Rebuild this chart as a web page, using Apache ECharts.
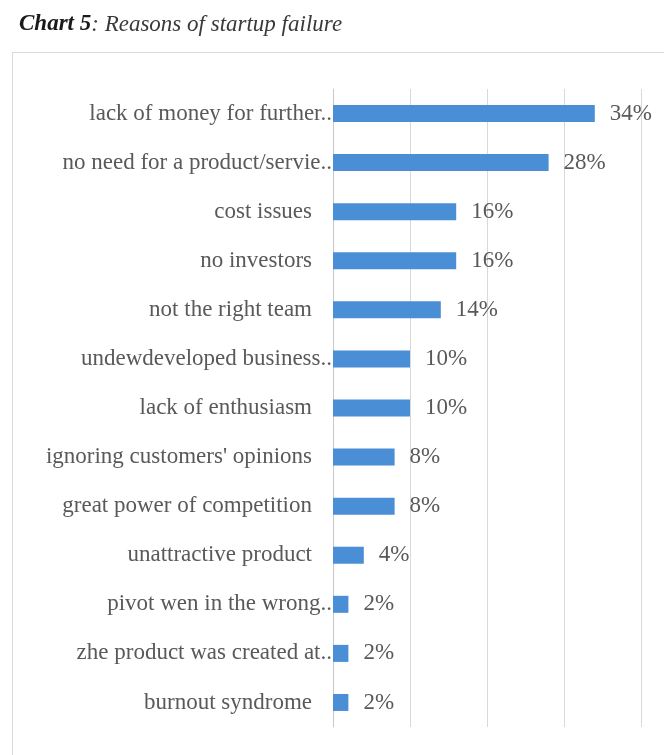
<!DOCTYPE html>
<html>
<head>
<meta charset="utf-8">
<script src="https://cdn.jsdelivr.net/npm/echarts@6/dist/echarts.min.js"></script>
<style>
  html, body { margin: 0; padding: 0; background: #ffffff; }
  #frame {
    position: absolute; left: 12px; top: 52px; width: 720px; height: 760px;
    border: 1px solid #d9d9d9; box-sizing: border-box;
  }
  #chart { position: absolute; left: 0; top: 0; width: 664px; height: 755px; }
</style>
</head>
<body>
<div id="frame"></div>
<div id="chart"></div>
<script>
// Survey answers, top to bottom
const reasons = [
  'lack of money for further..',
  'no need for a product/servie..',
  'cost issues',
  'no investors',
  'not the right team',
  'undewdeveloped business..',
  'lack of enthusiasm',
  "ignoring customers' opinions",
  'great power of competition',
  'unattractive product',
  'pivot wen in the wrong..',
  'zhe product was created at..',
  'burnout syndrome'
];
// Share of respondents, percent
const shares = [34, 28, 16, 16, 14, 10, 10, 8, 8, 4, 2, 2, 2];
// Horizontal axis ticks (percent)
const xTicks = [0, 10, 20, 30, 40];

const serif = '"Liberation Serif", "Times New Roman", serif';
const chart = echarts.init(document.getElementById('chart'));

chart.setOption({
  animation: false,
  title: {
    left: 14,
    top: 8,
    text: '{b|Chart 5}{i|: Reasons of startup failure}',
    textStyle: {
      fontWeight: 'normal',
      rich: {
        b: { fontFamily: serif, fontSize: 23, fontWeight: 'bold', fontStyle: 'italic', color: '#1a1a1a' },
        i: { fontFamily: serif, fontSize: 23, fontWeight: 'normal', fontStyle: 'italic', color: '#3a3a3a' }
      }
    }
  },
  grid: { left: 333, right: 23, top: 89, height: 638, containLabel: false },
  xAxis: {
    type: 'value',
    min: xTicks[0],
    max: xTicks[xTicks.length - 1],
    interval: xTicks[1] - xTicks[0],
    axisLabel: { show: false },
    axisLine: { show: false },
    axisTick: { show: false },
    splitLine: { show: true, lineStyle: { color: '#d9d9d9', width: 1 } }
  },
  yAxis: {
    type: 'category',
    inverse: true,
    data: reasons,
    axisLine: { show: true, lineStyle: { color: '#c8c8c8', width: 1 } },
    axisTick: { show: false },
    axisLabel: {
      margin: 1,
      formatter: function (v) {
        return v.endsWith('..') ? '{t|' + v + '}' : '{n|' + v + '}';
      },
      rich: {
        n: { fontFamily: serif, fontSize: 23, color: '#595959', padding: [0, 20, 0, 0] },
        t: { fontFamily: serif, fontSize: 23, color: '#595959', padding: [0, 0, 0, 0] }
      }
    }
  },
  series: [{
    type: 'bar',
    data: shares,
    barWidth: 17,
    itemStyle: { color: '#4a8ed6' },
    label: {
      show: true,
      position: 'right',
      distance: 15,
      formatter: '{c}%',
      fontFamily: serif,
      fontSize: 23,
      color: '#595959'
    }
  }]
});
</script>
</body>
</html>
